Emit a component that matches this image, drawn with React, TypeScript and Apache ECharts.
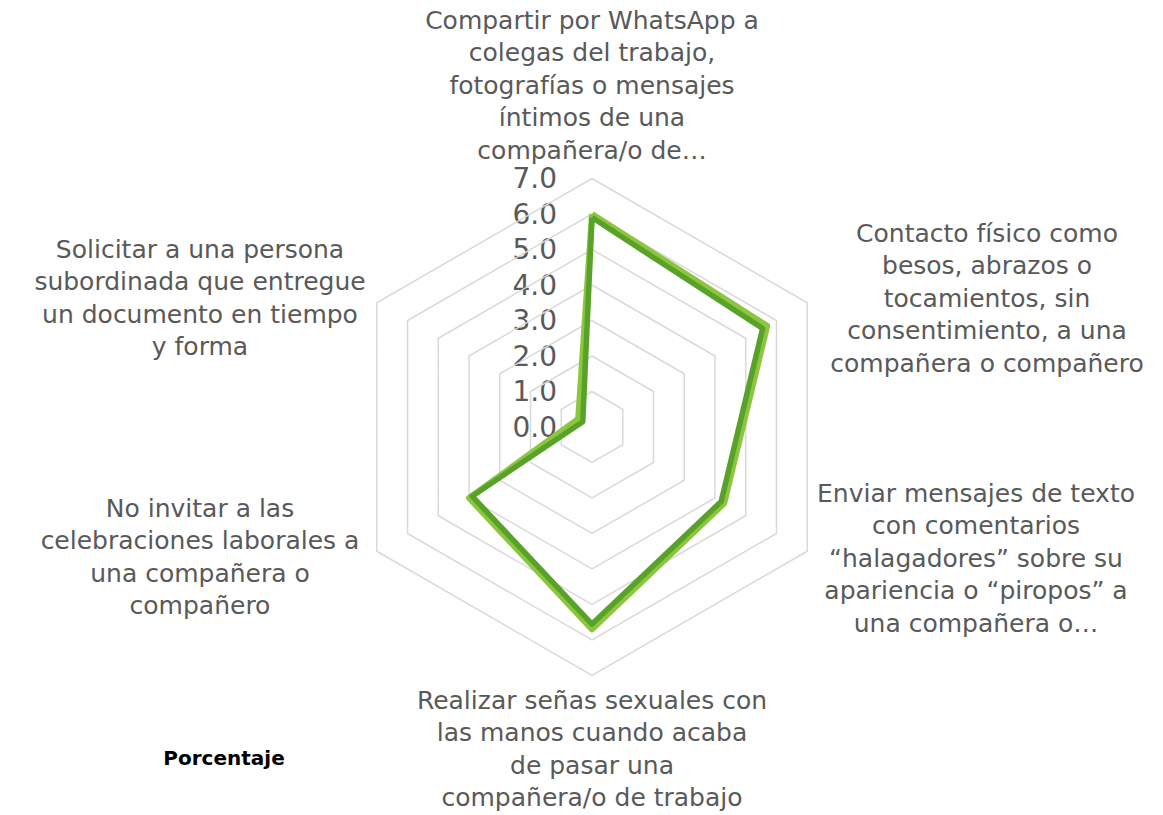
import React, { useEffect, useRef } from "react";
import * as echarts from "echarts";

const categories = [
  "Compartir por WhatsApp a\ncolegas del trabajo,\nfotografías o mensajes\níntimos de una\ncompañera/o de…",
  "Contacto físico como\nbesos, abrazos o\ntocamientos, sin\nconsentimiento, a una\ncompañera o compañero",
  "Enviar mensajes de texto\ncon comentarios\n“halagadores” sobre su\napariencia o “piropos” a\nuna compañera o…",
  "Realizar señas sexuales con\nlas manos cuando acaba\nde pasar una\ncompañera/o de trabajo",
  "No invitar a las\ncelebraciones laborales a\nuna compañera o\ncompañero",
  "Solicitar a una persona\nsubordinada que entregue\nun documento en tiempo\ny forma",
];
const seriesLight = [6.0, 5.7, 4.3, 5.7, 4.0, 0.45];
const seriesDark = [5.9, 5.55, 4.2, 5.55, 3.9, 0.3];
const tickLabels = ["0.0", "1.0", "2.0", "3.0", "4.0", "5.0", "6.0", "7.0"];
const axisMax = 7;

const CX = 592;
const CY = 427;
const R = 248.5;

// label anchor positions (layout only)
const labelPos = [
  { x: 592, y: 4 },
  { x: 987, y: 217 },
  { x: 976, y: 477 },
  { x: 592, y: 684 },
  { x: 200, y: 492 },
  { x: 200, y: 233 },
];

// ECharts lays indicators counter-clockwise; reorder to get clockwise layout
const order = [0, 5, 4, 3, 2, 1];
const reorder = (arr: any[]) => order.map((i) => arr[i]);

export default function App() {
  const ref = useRef<HTMLDivElement>(null);
  useEffect(() => {
    document.body.style.margin = "0";
    const chart = echarts.init(ref.current!, undefined, { renderer: "svg" });
    const font = "'DejaVu Sans', sans-serif";
    const graphics: any[] = [];
    categories.forEach((c, i) => {
      graphics.push({
        type: "text",
        x: labelPos[i].x,
        y: labelPos[i].y,
        style: {
          text: c,
          fill: "#595959",
          font: `25px ${font}`,
          lineHeight: 32.5,
          textAlign: "center",
          textVerticalAlign: "top",
        },
      });
    });
    tickLabels.forEach((t, i) => {
      graphics.push({
        type: "text",
        x: CX - 35,
        y: CY - (R * i) / axisMax,
        style: {
          text: t,
          fill: "#595959",
          font: `28px ${font}`,
          textAlign: "right",
          textVerticalAlign: "middle",
        },
      });
    });
    graphics.push({
      type: "text",
      x: 224,
      y: 758,
      style: {
        text: "Porcentaje",
        fill: "#000000",
        font: `bold 20px ${font}`,
        textAlign: "center",
        textVerticalAlign: "middle",
      },
    });
    chart.setOption({
      animation: false,
      radar: {
        center: [CX, CY],
        radius: R,
        startAngle: 90,
        splitNumber: 7,
        shape: "polygon",
        indicator: reorder(categories).map((c) => ({ name: c, max: axisMax, min: 0 })),
        axisName: { show: false },
        axisLine: { show: false },
        axisTick: { show: false },
        axisLabel: { show: false },
        splitLine: { lineStyle: { color: "#d9d9d9", width: 1.5 } },
        splitArea: { show: false },
      },
      series: [
        {
          type: "radar",
          symbol: "none",
          data: [
            { value: reorder(seriesLight), name: "Serie 1", lineStyle: { color: "#8cc63f", width: 6 } },
            { value: reorder(seriesDark), name: "Porcentaje", lineStyle: { color: "#58a229", width: 5.5 } },
          ],
        },
      ],
      graphic: graphics,
    });
    return () => chart.dispose();
  }, []);
  return <div ref={ref} style={{ width: 1163, height: 815 }} />;
}
